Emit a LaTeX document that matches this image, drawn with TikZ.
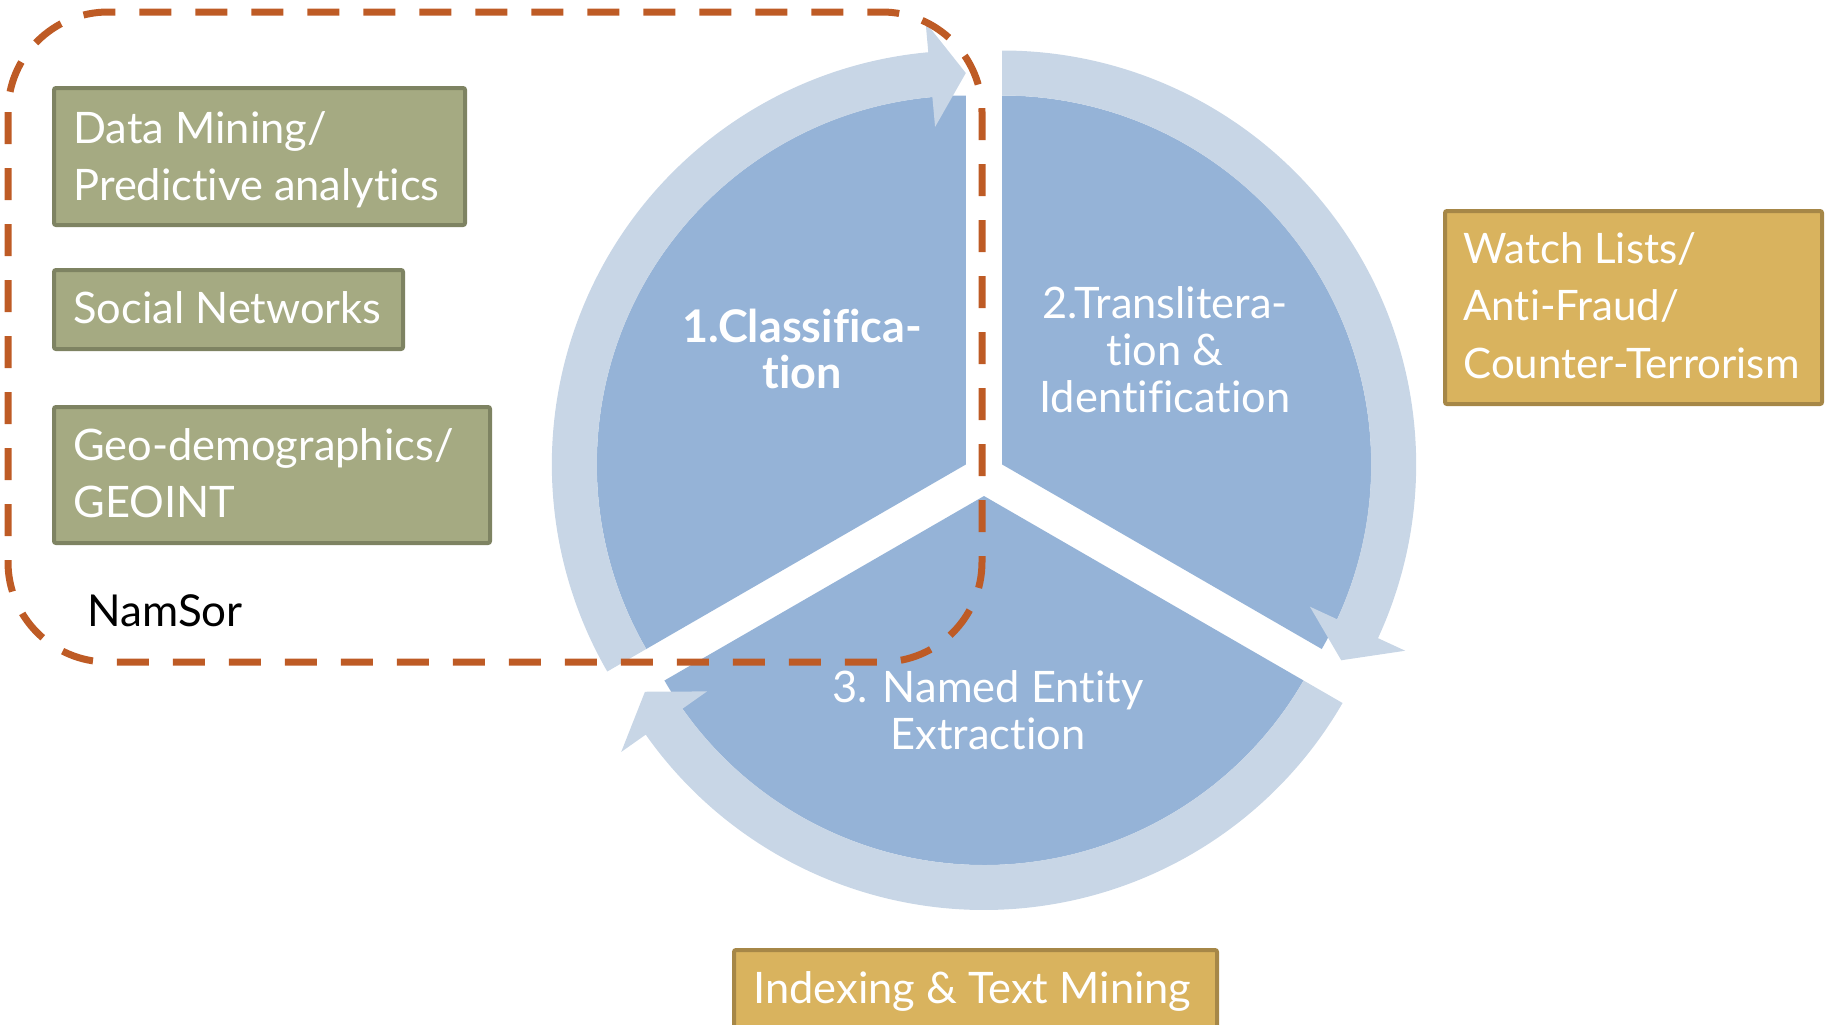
\documentclass[tikz,border=0pt]{standalone}
\usepackage{fontspec}
\setmainfont{Lato}[Ligatures=NoCommon]
\usepackage{tikz}
\usetikzlibrary{positioning}
\definecolor{pieblue}{HTML}{95B3D7}
\definecolor{ringblue}{HTML}{C8D6E6}
\definecolor{olivefill}{HTML}{A5AA82}
\definecolor{olivedraw}{HTML}{7E8362}
\definecolor{goldfill}{HTML}{D9B35E}
\definecolor{golddraw}{HTML}{A68747}
\definecolor{rust}{HTML}{BE5B25}
\tikzset{>=latex}
\tikzstyle{greenbox} = [draw=olivedraw, fill=olivefill, line width=2pt, rounded corners=1pt, anchor=north west, inner sep=0pt]
\tikzstyle{goldbox} = [draw=golddraw, fill=goldfill, line width=2pt, rounded corners=1pt, anchor=north west, inner sep=0pt]
\tikzstyle{boxtext} = [text=white, align=left, anchor=base west, inner sep=0pt, font=\fontsize{21.7pt}{28.5pt}\selectfont]
\tikzstyle{pietext} = [text=white, align=center, anchor=base, inner sep=0pt, font=\fontsize{21.7pt}{23.5pt}\selectfont]
\tikzstyle{namsorframe} = [draw=rust, line width=3.5pt, dash pattern=on 16pt off 12pt, rounded corners=50pt]

\begin{document}
\begin{tikzpicture}[x=0.5pt, y=0.5pt]
\useasboundingbox (0,0) rectangle (1828,-1024);

\def \rin {369}
\def \rout {414}
\def \gap {21}
\def \head {5.2} % arrow head length, in degrees

\begin{scope}[shift={(984,-475)}]
  % the three pieces, pushed apart
  \foreach \a in {90,-30,210}
    \fill[pieblue, shift={({\a+60}:\gap)}] (0,0) -- ({\a}:\rin)
      arc[start angle=\a, end angle=\a+120, radius=\rin] -- cycle;
  % clockwise arrows round each piece
  \foreach \a in {90,-30,210}
    \fill[ringblue, shift={({\a+60}:\gap)}] ({\a+120}:\rin)
      arc[start angle=\a+120, end angle=\a+\head, radius=\rin]
      -- ({\a+\head}:339) -- ({\a}:391.5) -- ({\a+\head}:444) -- ({\a+\head}:\rout)
      arc[start angle=\a+\head, end angle=\a+120, radius=\rout] -- cycle;
\end{scope}

% multi-line nodes sit on the baseline of their last line
\node[pietext, font=\bfseries\fontsize{22.5pt}{23pt}\selectfont] (classif) at (802,-388) {1.Classifica-\\tion};
\node[pietext] (translit) at (1165,-412) {2.Translitera-\\tion \&\\Identification};
\node[pietext] (ner) at (988,-749) {3. Named Entity\\Extraction};

% NamSor side
\node[greenbox, minimum width=205.5pt, minimum height=68.5pt] (mining) at (52,-86) {};
\node[boxtext] (miningtext) at (73,-200) {Data Mining/\\Predictive analytics};
\node[greenbox, minimum width=174.5pt, minimum height=39.5pt] (social) at (52,-268) {};
\node[boxtext] (socialtext) at (73,-323) {Social Networks};
\node[greenbox, minimum width=218pt, minimum height=68pt] (geo) at (52,-405) {};
\node[boxtext] (geotext) at (73,-517) {Geo-demographics/\\GEOINT};
\node[anchor=base west, inner sep=0pt, font=\fontsize{22pt}{25pt}\selectfont] (namsor) at (87,-626) {NamSor};

% applications
\node[goldbox, minimum width=188.5pt, minimum height=96.5pt] (watch) at (1443,-209) {};
\node[boxtext, font=\fontsize{21pt}{28.7pt}\selectfont] (watchtext) at (1463,-378) {Watch Lists/\\Anti-Fraud/\\Counter-Terrorism};
\node[goldbox, minimum width=241.5pt, minimum height=60pt] (index) at (732,-948) {};
\node[boxtext] (indextext) at (753,-1003) {Indexing \& Text Mining};

\draw[namsorframe] (8,-12) rectangle (982,-662);

\end{tikzpicture}
\end{document}
